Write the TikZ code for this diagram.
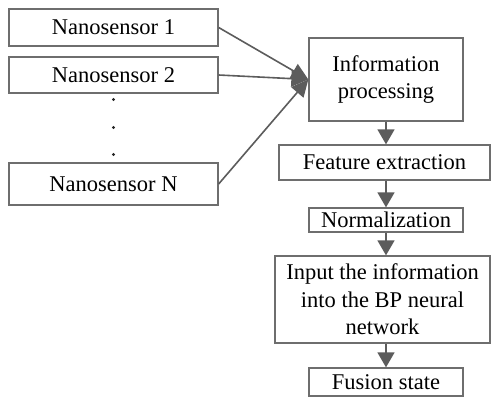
\documentclass[tikz,border=0pt]{standalone}
\usepackage{fontspec}
\setmainfont{Liberation Serif}
\usepackage{tikz}
\usetikzlibrary{arrows.meta}
\definecolor{boxgray}{HTML}{6E6E6E}
\definecolor{arrowgray}{HTML}{5C5C5C}

\begin{document}
\begin{tikzpicture}[x=1pt, y=-1pt,
    box/.style={draw=boxgray, line width=1.3pt, inner sep=0pt, align=center,
                font=\fontsize{22.5}{27.5}\selectfont},
    flow/.style={draw=arrowgray, line width=1.6pt, -{Triangle[length=15pt,width=17pt]}},
    merge/.style={draw=arrowgray, line width=1.6pt, -{Triangle[length=17pt,width=16pt]}}]
            \useasboundingbox (0,0) rectangle (491,398);
            \node (sens1) at (113.5,27.5) [box, minimum width=209pt, minimum height=37pt] {Nanosensor 1};
            \node (sens2) at (113.5,75) [box, minimum width=209pt, minimum height=36pt] {Nanosensor 2};
            \node (sensN) at (113.5,184) [box, minimum width=209pt, minimum height=42pt] {Nanosensor N};
            % vertical dots between sensor 2 and sensor N
            \foreach \y/\n in {99.5/1,127.5/2,154.5/3} {
                \coordinate (dot\n) at (113.5,\y);
                \fill[black!85] (dot\n) circle (1.7pt);
            }
            \node (info) at (386,79.5) [box, minimum width=154pt, minimum height=83pt] {Information\\processing};
            \node (feat) at (384.5,162.5) [box, minimum width=211pt, minimum height=35pt] {Feature extraction};
            \node (norm) at (386,220) [box, minimum width=154pt, minimum height=24pt] {Normalization};
            \node (bpnn) at (382.5,299.5) [box, minimum width=215pt, minimum height=87pt] {Input the information\\into the BP neural\\network};
            \node (fusion) at (386,382) [box, minimum width=154pt, minimum height=28pt] {Fusion state};
            % sensors to processing
            \draw[merge] (sens1.east) -- (info.west);
            \draw[merge] (sens2.east) -- (info.west);
            \draw[merge] (sensN.east) -- (info.west);
            % processing chain
            \draw[flow] (info.south) -- (info.south |- feat.north);
            \draw[flow] (info.south |- feat.south) -- (norm.north);
            \draw[flow] (norm.south) -- (norm.south |- bpnn.north);
            \draw[flow] (norm.south |- bpnn.south) -- (fusion.north);
\end{tikzpicture}
\end{document}
